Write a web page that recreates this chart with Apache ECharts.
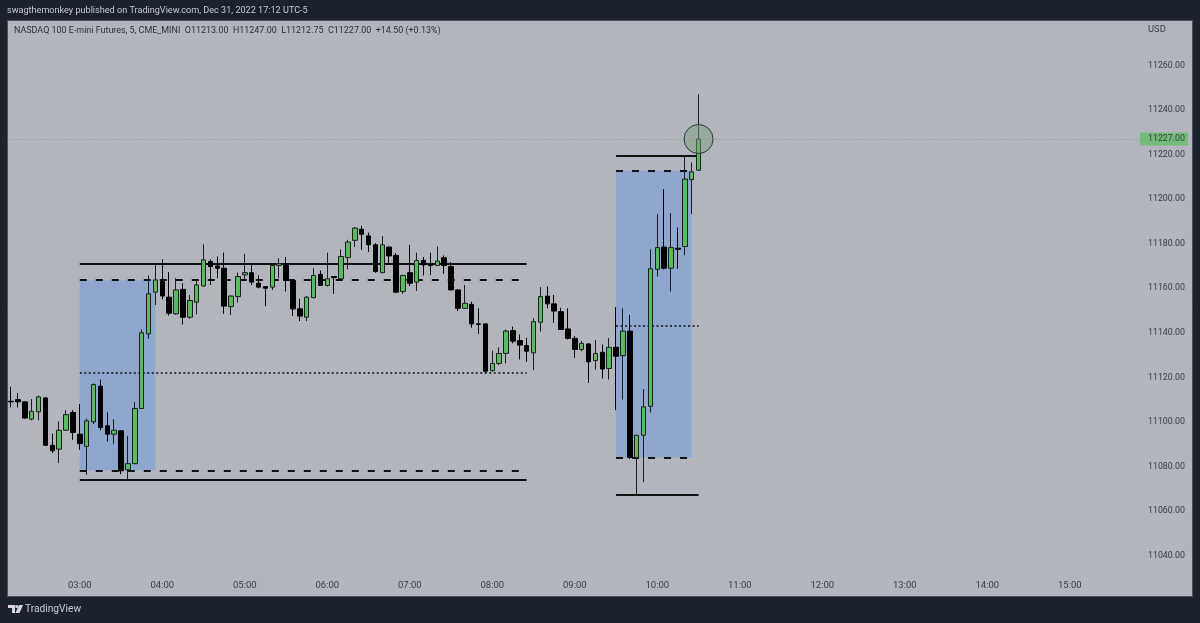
<!DOCTYPE html>
<html><head><meta charset="utf-8">
<style>html,body{margin:0;padding:0;background:#1c212e}#c{width:1200px;height:623px}</style>
<script src="https://cdn.jsdelivr.net/npm/echarts@6/dist/echarts.min.js"></script>
</head><body><div id="c"></div>
<script>
const headerText = 'swagthemonkey published on TradingView.com, Dec 31, 2022 17:12 UTC-5';
const legendText = 'NASDAQ 100 E-mini Futures, 5, CME_MINI  O11213.00  H11247.00  L11212.75  C11227.00  +14.50 (+0.13%)';
const currency = 'USD';
const lastClose = 11227;

const opens = [11109.25,11110,11109,11101.25,11104.5,11110.75,11089.5,11087.75,11096.25,11104.25,
11094.5,11089,11100,11116,11098.25,11094.5,11096,11078.5,11081.25,11106,
11139.5,11158.25,11163,11156,11148.5,11159.5,11147,11153.75,11161,11172,
11170,11169,11151.75,11156.25,11166,11167,11162.25,11160.75,11160.5,11170.25,
11170.75,11163.5,11150.75,11147,11155.75,11166.25,11161.25,11165.25,11164.25,11173.75,
11181.5,11186.5,11183.5,11179.5,11167,11178.5,11174.75,11158.5,11167,11162.75,
11172.5,11170.5,11170.25,11173.75,11169.75,11159.25,11151,11152.75,11144,11144,
11123,11126.25,11130.75,11141,11136.5,11134.25,11131,11144.75,11156.5,11153,
11149.5,11141.75,11137.5,11132.5,11135,11127.5,11131.25,11124,11133.5,11129.75,
11140.75,11084,11094,11107,11168.5,11178.5,11169,11178,11178.75,11208.75,11213];
const closes = [11109,11109,11101.75,11104.75,11111.25,11089.5,11087,11096.25,11103.25,11095.25,
11090.25,11100.5,11116.75,11097.5,11094.5,11096.25,11078,11081.25,11106,11140,
11157.5,11163.75,11156.5,11148.75,11159.25,11147,11154.5,11161.5,11172.75,11169.75,
11169,11152,11156.5,11165.25,11167,11162.75,11160.5,11160,11170.25,11171,
11163.5,11150.75,11147.5,11156,11165.75,11161.25,11164.25,11164.75,11174.25,11180.75,
11187,11184.25,11179.5,11167.5,11179.5,11174.5,11158.25,11165.75,11162.25,11172.5,
11170.5,11170.25,11172.25,11170.25,11159.25,11151,11153.25,11144,11143.75,11122.75,
11126.25,11130.75,11140.75,11136.25,11134.5,11131.75,11145,11156.25,11153,11149.75,
11141.5,11137.5,11132.5,11135.25,11127,11130.75,11123.75,11133.5,11129.5,11140.75,
11084,11094,11106.75,11168.75,11178.25,11169,11178.25,11177.5,11209,11212.25,11227];
const lows = [11106.5,11106.5,11101.5,11100.75,11100.75,11089.25,11086,11081.5,11096,11092,
11087.5,11076.25,11099,11096.25,11091.25,11090,11076.5,11074,11081,11106,
11137.25,11152.5,11155,11147.75,11148,11143.75,11146.25,11148.25,11160.75,11161.5,
11164.5,11148.5,11148,11153.5,11163.75,11161.5,11160,11152,11159.25,11164.5,
11158.5,11147.5,11145.25,11145.25,11155.5,11161,11160.75,11157.5,11164.25,11168.5,
11178.5,11177.25,11176.25,11167,11166.75,11170.5,11157.75,11157.5,11161,11158.75,
11165.75,11166,11170,11166.5,11159,11149.75,11150.75,11142.25,11139.5,11121.75,
11122.5,11125.5,11126.25,11135.25,11128,11127,11123.25,11140.5,11151,11144.5,
11141.25,11137,11128.75,11131.75,11117.5,11123.5,11119.5,11119,11105.25,11110,
11083.25,11067.25,11073,11104.25,11165.25,11168.5,11158.5,11168.75,11174.75,11193.25,11212.75];
const highs = [11115.75,11113,11109,11110.25,11111.75,11111.25,11094.75,11100.25,11105.25,11105.25,
11108,11101.5,11117.25,11119,11104.25,11101.25,11096,11093.75,11109,11141.5,
11165.75,11170.75,11173,11167.25,11164.5,11162.25,11157,11163.75,11179.75,11173,
11174.25,11176,11156.75,11167,11175.5,11170.5,11165.75,11161,11171.25,11173.5,
11174,11163.75,11155.25,11156.5,11169,11168,11176,11165.25,11177.5,11181.75,
11187.5,11188,11185,11180.25,11183.5,11178.75,11175.75,11166,11179.5,11176,
11174,11176,11178.75,11174.75,11171.75,11159.5,11161.5,11154,11151,11144.25,
11132,11133.5,11141.5,11142.75,11139.25,11137.75,11146.5,11160.5,11160.75,11157,
11151.25,11151,11138.5,11136.25,11135.25,11136.75,11134.75,11137.75,11151.5,11151,
11148,11094,11114.75,11177.5,11193.25,11204.5,11193.75,11187.25,11219.25,11216.5,11247];

// range annotations: [start time, end time, price]
const solidLevels  = [['03:00','08:25',11171],['03:00','08:25',11074],['09:30','10:30',11219.5],['09:30','10:30',11067.25]];
const dashedLevels = [['03:00','08:25',11163.75],['03:00','08:25',11078.25],['09:30','10:25',11212.75],['09:30','10:25',11084]];
const dottedLevels = [['03:00','08:25',11122.25],['09:30','10:30',11143.25]];
const rangeBoxes   = [['03:00','03:55',11163.75,11078.25],['09:30','10:25',11212.75,11084]];
const circleMark   = ['10:30',11227];

const pad = n => String(n).padStart(2,'0');
const categories = [];
for (let m = 2*60+10; categories.length < 165; m += 5) categories.push(pad(Math.floor(m/60))+':'+pad(m%60));

const candles = opens.map((o,i)=>[o,closes[i],lows[i],highs[i]]);
const levelLines = arr => arr.map(l=>[{xAxis:l[0],yAxis:l[2]},{xAxis:l[1],yAxis:l[2]}]);
const INK = '#111111';
const AXIS_FONT = 'Roboto';

const mkLine = (arr,type,w) => ({type:'line',data:[],z:2,silent:true,animation:false,showSymbol:false,
  markLine:{silent:true,animation:false,symbol:'none',label:{show:false},
    lineStyle:{color:INK,width:w,type:type,opacity:1},data:levelLines(arr)}});

const chart = echarts.init(document.getElementById('c'),null,{renderer:'canvas'});
chart.setOption({
  backgroundColor:'#1c212e',
  animation:false,
  grid:{left:7.6,top:20.95,width:1134.4,height:534.6,containLabel:false},
  xAxis:{type:'category',data:categories,boundaryGap:true,
    axisLine:{show:false},axisTick:{show:false},splitLine:{show:false},
    axisLabel:{show:true,margin:25,color:'#3a3d45',fontSize:9.5,fontFamily:AXIS_FONT,
      interval:(i,v)=>v.endsWith(':00')}},
  yAxis:{type:'value',position:'right',min:11040,max:11280,interval:20,scale:true,
    axisLine:{show:false},axisTick:{show:false},splitLine:{show:false},
    axisLabel:{margin:6,color:'#3a3d45',fontSize:8.8,fontFamily:AXIS_FONT,align:'left',
      formatter:v=>v>=11280?'':v.toFixed(2)}},
  series:[
    {type:'line',data:[],z:1,silent:true,animation:false,
     markArea:{silent:true,animation:false,itemStyle:{color:'#8fa6cf',opacity:1},
       data:rangeBoxes.map(b=>[{xAxis:b[0],yAxis:b[2]},{xAxis:b[1],yAxis:b[3]}])}},
    mkLine(solidLevels,'solid',2),
    mkLine(dashedLevels,[7,9],2),
    mkLine(dottedLevels,[2,2.5],1.5),
    {type:'candlestick',z:5,data:candles,barWidth:5,silent:true,animation:false,
     itemStyle:{color:'#58bb5f',color0:'#000000',borderColor:'#1a1f1a',borderColor0:'#000000',borderWidth:1},
     markLine:{silent:true,animation:false,symbol:'none',z:1,
       lineStyle:{color:'#6fa37c',width:1,type:[1,2],opacity:.8},
       label:{show:true,position:'end',distance:-2,formatter:()=>lastClose.toFixed(2),
         backgroundColor:'#66bb6a',color:'#22262e',fontSize:8.8,fontFamily:AXIS_FONT,
         padding:[1,6,1,8],width:34,height:11,lineHeight:11,align:'left'},
       data:[{yAxis:lastClose}]}},
    {type:'scatter',z:6,silent:true,animation:false,symbol:'circle',symbolSize:29,
     data:[circleMark],
     itemStyle:{color:'rgba(122,160,125,0.5)',borderColor:'#33393a',borderWidth:1,opacity:1}}
  ],
  graphic:[
    {type:'rect',z:-10,silent:true,shape:{x:7.5,y:20.5,width:1185,height:576},
     style:{fill:'#b2b5be',stroke:'#4c505c',lineWidth:1}},
    {type:'text',z:10,left:7,top:6,silent:true,style:{text:headerText,fill:'#c8cad0',font:'9.1px Roboto'}},
    {type:'text',z:10,left:14,top:26,silent:true,style:{text:legendText,fill:'#2e3138',font:'8.95px Roboto'}},
    {type:'text',z:10,left:1148,top:25,silent:true,style:{text:currency,fill:'#3a3d45',font:'9.4px Roboto'}},
    {type:'text',z:10,left:25,top:604,silent:true,style:{text:'TradingView',fill:'#c8cad0',font:'10.2px Roboto'}},
    {type:'polygon',z:10,silent:true,shape:{points:[[8,605],[15,605],[15,613],[12,613],[12,608],[8,608]]},style:{fill:'#d6d8de'}},
    {type:'circle',z:10,silent:true,shape:{cx:16.7,cy:606.5,r:1.5},style:{fill:'#d6d8de'}},
    {type:'polygon',z:10,silent:true,shape:{points:[[19,605],[23,605],[19.5,613],[15.5,613]]},style:{fill:'#d6d8de'}}
  ]
});
</script></body></html>
